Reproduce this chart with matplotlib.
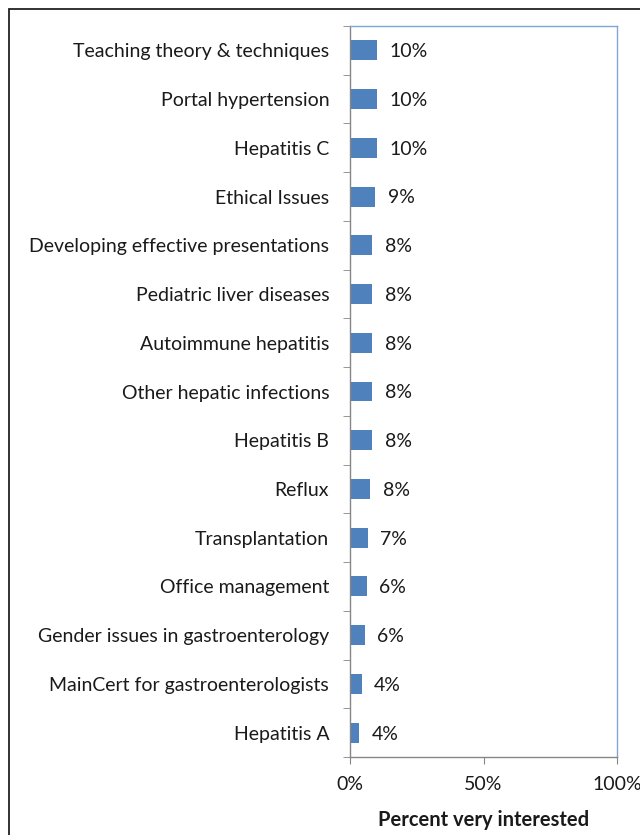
import numpy as np
import matplotlib.pyplot as plt
from matplotlib.patches import Rectangle

topics = [
    "Teaching theory & techniques",
    "Portal hypertension",
    "Hepatitis C",
    "Ethical Issues",
    "Developing effective presentations",
    "Pediatric liver diseases",
    "Autoimmune hepatitis",
    "Other hepatic infections",
    "Hepatitis B",
    "Reflux",
    "Transplantation",
    "Office management",
    "Gender issues in gastroenterology",
    "MainCert for gastroenterologists",
    "Hepatitis A",
]
pct = [10.2, 10.2, 10.2, 9.4, 8.4, 8.4, 8.4, 8.4, 8.4, 7.5, 6.7, 6.2, 5.5, 4.4, 3.5]
pct_labels = ["10%", "10%", "10%", "9%", "8%", "8%", "8%", "8%", "8%", "8%",
              "7%", "6%", "6%", "4%", "4%"]
x_ticks = [0, 50, 100]
x_ticklabels = ["0%", "50%", "100%"]

plt.rcParams["font.family"] = ["Lato", "DejaVu Sans"]
axis_gray = "#868686"
text_col = "#1a1a1a"
fs = 14

fig = plt.figure(figsize=(6.4, 8.35), dpi=100)
fig.patches.append(Rectangle((9 / 640, -0.05), 1.0, 1 - 9 / 835 + 0.05,
                             transform=fig.transFigure, fill=False,
                             edgecolor="#222222", linewidth=1.3))
ax = fig.add_axes([350 / 640, 78 / 835, 267 / 640, 731 / 835])

n = len(topics)
y = np.arange(n)
ax.barh(y, pct, height=0.41, color="#4f81bd")
for yi, v, lab in zip(y, pct, pct_labels):
    ax.annotate(lab, (v, yi), xytext=(9, -1), textcoords="offset points",
                va="center", ha="left", fontsize=fs, color=text_col)

ax.set_xlim(0, 100)
ax.set_ylim(n - 0.5, -0.5)
ax.set_yticks(y)
ax.set_yticklabels(topics, fontsize=fs, color=text_col)
ax.set_yticks(np.arange(-0.5, n, 1.0), minor=True)
ax.tick_params(axis="y", which="major", length=0, pad=15)
ax.tick_params(axis="y", which="minor", length=5, color=axis_gray, direction="out")
ax.set_xticks(x_ticks)
ax.set_xticklabels(x_ticklabels, fontsize=fs, color=text_col)
ax.tick_params(axis="x", length=5, color=axis_gray, pad=9)
ax.set_xlabel("Percent very interested", fontsize=14.5, fontweight="bold",
              color=text_col, labelpad=12)

ax.spines["left"].set_color(axis_gray)
ax.spines["bottom"].set_color(axis_gray)
ax.spines["top"].set_color("#7da7d9")
ax.spines["right"].set_color("#7da7d9")
for s in ax.spines.values():
    s.set_linewidth(1.0)

fig.savefig("out.png", dpi=100)
